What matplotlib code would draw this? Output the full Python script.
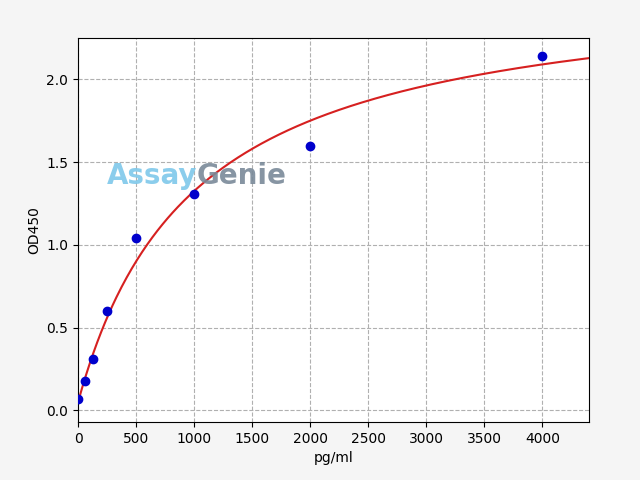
import numpy as np
import matplotlib
matplotlib.use("Agg")
import matplotlib.pyplot as plt

# standard concentrations and measured OD
conc = [0, 62.5, 125, 250, 500, 1000, 2000, 4000]
od = [0.07, 0.18, 0.31, 0.60, 1.04, 1.31, 1.60, 2.14]

# 4PL fit parameters (bottom, slope, ec50, top)
fit_a, fit_b, fit_c, fit_d = 0.05, 1.0, 1000.0, 2.6

fig, ax = plt.subplots(figsize=(6.4, 4.8), dpi=100)
fig.patch.set_facecolor("#f5f5f5")
fig.subplots_adjust(left=0.122, right=0.92, top=0.921, bottom=0.121)

xs = np.linspace(0, 4400, 400)
ys = fit_d + (fit_a - fit_d) / (1 + (xs / fit_c) ** fit_b)
ax.plot(xs, ys, color="#d62020", linewidth=1.5, zorder=2)
ax.scatter(conc, od, color="#0000cc", s=36, zorder=3)

# watermark
ax.text(0.056, 0.62, "Assay", transform=ax.transAxes, fontsize=20,
        color="#7ec8ea", fontweight="bold", alpha=0.9)
ax.text(0.232, 0.62, "Genie", transform=ax.transAxes, fontsize=20,
        color="#7a8a99", fontweight="bold", alpha=0.9)

ax.set_xlim(0, 4400)
ax.set_ylim(-0.07, 2.25)
ax.set_xticks(range(0, 4001, 500))
ax.set_yticks([0.0, 0.5, 1.0, 1.5, 2.0])
ax.grid(True, linestyle="--", color="#b0b0b0")
ax.set_xlabel("pg/ml")
ax.set_ylabel("OD450")

plt.savefig("out.png", dpi=100, facecolor=fig.get_facecolor())
